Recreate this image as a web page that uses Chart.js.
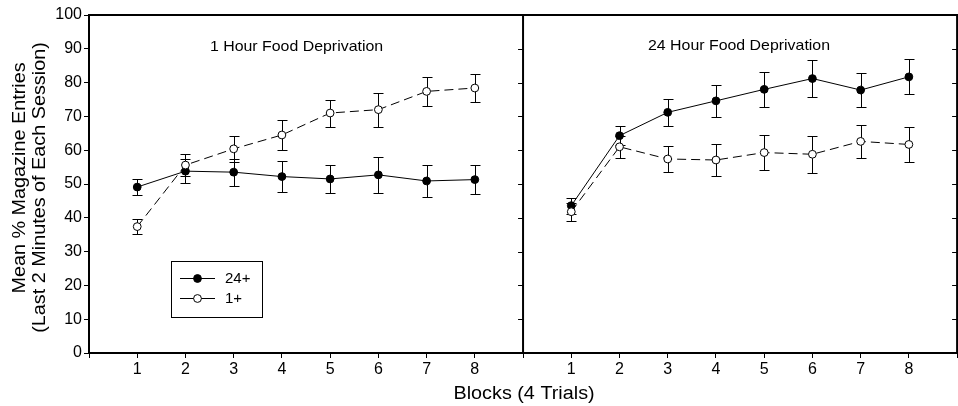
<!DOCTYPE html>
<html>
<head>
<meta charset="utf-8">
<script src="https://cdn.jsdelivr.net/npm/chart.js@4.4.1/dist/chart.umd.min.js"></script>
<style>
html,body{margin:0;padding:0;overflow:hidden;background:#fff;width:958px;height:406px;}
canvas{display:block;}
</style>
</head>
<body>
<canvas id="c" width="962" height="406"></canvas>
<script>
// ---- data ----
const blocks = [1, 2, 3, 4, 5, 6, 7, 8];
const yTicks = [0, 10, 20, 30, 40, 50, 60, 70, 80, 90, 100];
const panelTitles = ["1 Hour Food Deprivation", "24 Hour Food Deprivation"];
const seriesNames = ["24+", "1+"];
const xTitle = "Blocks (4 Trials)";
const yTitle = ["Mean % Magazine Entries", "(Last 2 Minutes of Each Session)"];

const hr1_g24 = [49.1, 53.8, 53.5, 52.2, 51.5, 52.7, 50.9, 51.3];
const hr1_g24_err = [2.5, 3.5, 4.0, 4.5, 4.2, 5.3, 4.6, 4.3];
const hr1_g1 = [37.4, 55.6, 60.4, 64.5, 71.0, 72.0, 77.4, 78.4];
const hr1_g1_err = [2.2, 3.2, 3.9, 4.3, 4.0, 5.0, 4.4, 4.1];

const hr24_g24 = [43.6, 64.3, 71.2, 74.6, 78.0, 81.2, 77.8, 81.7];
const hr24_g24_err = [2.4, 2.9, 4.0, 4.8, 5.2, 5.4, 5.0, 5.2];
const hr24_g1 = [41.8, 61.0, 57.4, 57.1, 59.3, 58.8, 62.6, 61.7];
const hr24_g1_err = [2.7, 3.2, 3.8, 4.8, 5.2, 5.4, 4.9, 5.2];

const PANEL_SPAN = 9; // each panel spans 0..9 on the shared x scale
const FONT = "'Liberation Sans', Arial, Helvetica, sans-serif";

function pts(vals, panel) {
  return blocks.map((b, i) => ({x: b + panel * PANEL_SPAN, y: vals[i]}));
}

function mkSet(vals, errs, panel, filled) {
  return {
    data: pts(vals, panel),
    errs: errs,
    borderColor: '#000',
    borderWidth: 1,
    borderDash: filled ? [] : [9, 5],
    pointRadius: 3.9,
    pointHoverRadius: 3.9,
    pointBorderWidth: 1,
    pointBorderColor: '#000',
    pointBackgroundColor: filled ? '#000' : '#fff',
    fill: false,
    tension: 0
  };
}

const datasets = [
  mkSet(hr1_g1, hr1_g1_err, 0, false),
  mkSet(hr24_g1, hr24_g1_err, 1, false),
  mkSet(hr1_g24, hr1_g24_err, 0, true),
  mkSet(hr24_g24, hr24_g24_err, 1, true)
];

function stretchedText(ctx, text, x, y, sx) {
  ctx.save();
  ctx.translate(x, y);
  ctx.scale(sx, 1);
  ctx.fillText(text, 0, 0);
  ctx.restore();
}

const deco = {
  id: 'deco',
  beforeDatasetsDraw(chart) {
    const ctx = chart.ctx, xs = chart.scales.x, ys = chart.scales.y;
    ctx.save();
    ctx.strokeStyle = '#000';
    ctx.lineWidth = 1;
    chart.data.datasets.forEach(ds => {
      ds.data.forEach((p, i) => {
        const e = ds.errs[i];
        const px = Math.round(xs.getPixelForValue(p.x)) + 0.5;
        const y1 = Math.round(ys.getPixelForValue(p.y + e)) + 0.5;
        const y2 = Math.round(ys.getPixelForValue(p.y - e)) + 0.5;
        ctx.beginPath();
        ctx.moveTo(px, y1); ctx.lineTo(px, y2);
        ctx.moveTo(px - 5, y1); ctx.lineTo(px + 5, y1);
        ctx.moveTo(px - 5, y2); ctx.lineTo(px + 5, y2);
        ctx.stroke();
      });
    });
    ctx.restore();
  },
  afterDraw(chart) {
    const ctx = chart.ctx, xs = chart.scales.x, ys = chart.scales.y;
    const a = chart.chartArea;
    ctx.save();
    ctx.strokeStyle = '#000';
    ctx.fillStyle = '#000';
    // top border
    ctx.lineWidth = 2;
    ctx.beginPath();
    ctx.moveTo(a.left - 1, a.top); ctx.lineTo(a.right + 1, a.top);
    ctx.stroke();
    // divider and right border with left-pointing ticks
    [PANEL_SPAN, 2 * PANEL_SPAN].forEach(v => {
      const px = xs.getPixelForValue(v);
      ctx.lineWidth = 2;
      ctx.beginPath();
      ctx.moveTo(px, a.top); ctx.lineTo(px, a.bottom + 1);
      ctx.stroke();
      ctx.lineWidth = 1;
      yTicks.forEach(t => {
        if (t === 0) return;
        const py = Math.round(ys.getPixelForValue(t)) + 0.5;
        ctx.beginPath();
        ctx.moveTo(px - 5, py); ctx.lineTo(px, py);
        ctx.stroke();
      });
    });
    // panel titles
    ctx.font = '15px ' + FONT;
    ctx.textAlign = 'center';
    ctx.textBaseline = 'alphabetic';
    stretchedText(ctx, panelTitles[0], 296.5, 50.5, 1.06);
    stretchedText(ctx, panelTitles[1], 739, 49.5, 1.06);
    // axis titles
    ctx.font = '18px ' + FONT;
    stretchedText(ctx, xTitle, xs.getPixelForValue(PANEL_SPAN) + 1, 398.5, 1.1);
    ctx.save();
    ctx.translate(0, 178);
    ctx.rotate(-Math.PI / 2);
    stretchedText(ctx, yTitle[0], 0, 24.5, 1.1);
    ctx.restore();
    ctx.save();
    ctx.translate(0, 187.5);
    ctx.rotate(-Math.PI / 2);
    stretchedText(ctx, yTitle[1], 0, 45, 1.1);
    ctx.restore();
    // legend
    ctx.lineWidth = 1;
    ctx.strokeRect(171.5, 261.5, 91, 56);
    const rows = [{y: 278.5, filled: true, name: seriesNames[0]}, {y: 298.5, filled: false, name: seriesNames[1]}];
    ctx.font = '15px ' + FONT;
    ctx.textAlign = 'left';
    ctx.textBaseline = 'middle';
    rows.forEach(r => {
      ctx.beginPath();
      ctx.moveTo(180, r.y); ctx.lineTo(215, r.y);
      ctx.stroke();
      ctx.beginPath();
      ctx.arc(197.5, r.y, 3.9, 0, Math.PI * 2);
      ctx.fillStyle = r.filled ? '#000' : '#fff';
      ctx.fill();
      ctx.stroke();
      ctx.fillStyle = '#000';
      ctx.fillText(r.name, 225, r.y);
    });
    ctx.restore();
  }
};

new Chart(document.getElementById('c'), {
  type: 'line',
  data: {datasets: datasets},
  plugins: [deco],
  options: {
    responsive: false,
    animation: false,
    events: [],
    layout: {padding: {top: 15, right: 1, left: 0, bottom: 0}},
    plugins: {legend: {display: false}, tooltip: {enabled: false}, title: {display: false}},
    scales: {
      x: {
        type: 'linear',
        min: 0,
        max: 2 * PANEL_SPAN,
        afterFit: s => { s.height = 53; },
        afterBuildTicks: s => { s.ticks = Array.from({length: 2 * PANEL_SPAN + 1}, (_, i) => ({value: i})); },
        ticks: {
          autoSkip: false,
          maxRotation: 0,
          padding: 2,
          color: '#000',
          font: {family: FONT, size: 16},
          callback: v => (v % PANEL_SPAN === 0) ? '' : String(v % PANEL_SPAN)
        },
        grid: {display: true, drawOnChartArea: false, drawTicks: true, tickLength: 5, color: '#000', lineWidth: 1},
        border: {display: true, color: '#000', width: 2}
      },
      y: {
        min: 0,
        max: 100,
        afterFit: s => { s.width = 89; },
        afterBuildTicks: s => { s.ticks = yTicks.map(v => ({value: v})); },
        ticks: {
          padding: 2,
          color: '#000',
          font: {family: FONT, size: 16}
        },
        grid: {display: true, drawOnChartArea: false, drawTicks: true, tickLength: 5, color: '#000', lineWidth: 1},
        border: {display: true, color: '#000', width: 2}
      }
    }
  }
});
</script>
</body>
</html>
